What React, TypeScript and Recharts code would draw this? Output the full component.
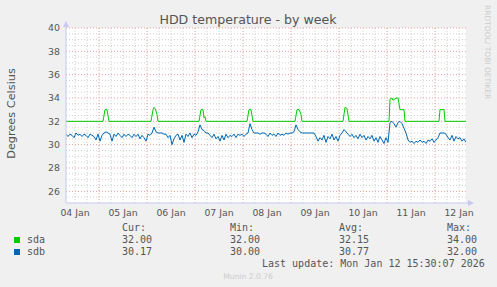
import React from 'react';
import { LineChart, Line, XAxis, YAxis, CartesianGrid } from 'recharts';

// Time axis: hours since Jan 04 07:30 (graph end: Jan 12 15:30)
const dayLabels = ['04 Jan', '05 Jan', '06 Jan', '07 Jan', '08 Jan', '09 Jan', '10 Jan', '11 Jan', '12 Jan'];
const dayLabelHours = [4.5, 28.5, 52.5, 76.5, 100.5, 124.5, 148.5, 172.5, 196.5];
const midnightHours = [16.5, 40.5, 64.5, 88.5, 112.5, 136.5, 160.5, 184.5];
const yTicks = [26, 28, 30, 32, 34, 36, 38, 40];

// sda: breakpoints (hour, °C)
const sdaHours = [
  0, 18.5, 19.5, 20.5, 21.5,
  42.5, 43.5, 44, 44.5, 45.5, 46,
  66.5, 67.5, 68.5, 69, 69.5, 70,
  90.5, 91.5, 92.5, 93.5,
  114.5, 115.5, 116.5, 117.5, 118,
  138.5, 139.5, 140.5, 141.5,
  161.5, 162, 163, 163.5, 165, 166, 167, 169, 169.5,
  186.5, 187, 189, 189.5, 200,
];
const sdaValues = [
  32, 32, 33, 33, 32,
  32, 33, 33.2, 33.1, 32.6, 32,
  32, 33, 33, 32.3, 32.4, 32,
  32, 33, 33, 32,
  32, 33, 33, 32.6, 32,
  32, 33.2, 33.1, 32,
  32, 33.9, 34, 33.8, 34, 34, 33, 33, 32,
  32, 33, 33, 32, 32,
];

// sdb: hourly values from hour 0 to 200
const sdbValues = [
  30.9, 30.7, 30.9, 30.8, 30.6, 31.0, 30.8, 30.9, 30.7, 30.9, 30.8, 30.6, 30.9, 30.8, 30.7, 30.4, 30.9, 30.3, 30.8,
  31.0, 31.1, 31.0, 30.9,
  30.3,
  30.9, 30.7, 31.0, 30.8, 30.6, 30.9, 30.7, 30.9, 30.8, 30.6, 30.9,
  30.7, 30.9, 30.5, 30.8, 30.6, 30.3, 30.9, 30.8, 31.0, 31.5, 31.1, 31.0, 31.0, 31.0, 30.9, 30.9, 30.6, 30.8, 30.0,
  30.5, 30.8, 30.9, 30.4, 30.8, 30.2, 30.9, 30.7, 31.0, 30.6, 30.9, 30.8, 31.1, 31.7, 31.3, 31.2, 31.0, 31.0,
  30.8, 30.6, 30.9, 30.5, 30.7, 30.3, 30.8, 30.4, 30.9, 30.6, 30.8, 30.7, 30.9, 30.6, 30.9, 30.8, 30.9, 30.7,
  30.9, 31.0, 31.8, 31.3, 31.0,
  31.0, 31.0, 30.9, 31.0, 31.0, 30.9, 30.7, 31.0, 30.8, 30.9, 30.7, 31.0, 30.8, 30.9, 30.8, 31.0, 30.9, 31.0,
  31.0, 31.1, 31.7, 31.3, 31.1, 31.0, 31.0, 31.0, 31.0, 31.0, 31.0, 31.0, 30.7,
  30.3, 30.6, 30.4, 30.8, 30.2, 30.7, 30.5, 30.9, 30.4, 30.7, 30.3, 30.8,
  31.0, 31.3, 31.1, 30.9, 30.7,
  30.9, 30.6, 30.8, 30.5, 30.9, 30.6, 30.8, 30.4, 30.7, 30.5, 30.8, 30.3, 30.6, 30.2, 30.7, 30.4, 30.1, 30.6, 30.2,
  31.9, 32.0, 31.8, 31.5, 31.9, 32.0, 31.8, 31.4, 31.0,
  30.4, 30.2, 30.3, 30.1, 30.3, 30.2, 30.4, 30.2, 30.3, 30.1, 30.4, 30.3, 30.5, 30.2, 30.4, 30.6,
  31.0, 31.0, 31.0, 30.9,
  30.6, 30.4, 30.8, 30.3, 30.7, 30.5, 30.6, 30.3, 30.5, 30.2,
];

const seriesNames = ['sda', 'sdb'];
const seriesColors = ['#00CC00', '#0066B3'];
const curValues = ['32.00', '30.17'];
const minValues = ['32.00', '30.00'];
const avgValues = ['32.15', '30.77'];
const maxValues = ['34.00', '32.00'];
const lastUpdate = 'Last update: Mon Jan 12 15:30:07 2026';

const sdaData = sdaHours.map((h, i) => ({ h, v: sdaValues[i] }));
const sdbData = sdbValues.map((v, i) => ({ h: i, v }));

const minorH: number[] = [];
for (let v = 25.5; v < 40; v += 0.5) if (v % 2 !== 0) minorH.push(v);
const minorV: number[] = [];
for (let h = 4.5; h <= 200; h += 6) if (!midnightHours.includes(h)) minorV.push(h);

const W = 497;
const H = 287;
const mono = '"DejaVu Sans Mono", monospace';
const sans = '"DejaVu Sans", sans-serif';
const textColor = '#555555';
const axisColor = '#C8C8F0';

export default function App() {
  const cols = [122, 230, 339, 447];
  const headers = ['Cur:', 'Min:', 'Avg:', 'Max:'];
  const colValues = [curValues, minValues, avgValues, maxValues];
  const rowY = [243, 255];
  return (
    <div style={{ position: 'fixed', left: 0, top: 0, width: W, height: H, background: '#F0F0F0' }}>
      <LineChart width={W} height={H} margin={{ top: 28, right: 31, bottom: 64, left: 0 }}>
        <CartesianGrid
          fill="#FFFFFF"
          stroke="#D0D0D0"
          strokeDasharray="1 2"
          horizontalValues={minorH}
          verticalValues={minorV}
        />
        <CartesianGrid
          stroke="#E4A0A0"
          strokeDasharray="1 2"
          horizontalValues={yTicks}
          verticalValues={midnightHours}
        />
        <XAxis
          type="number"
          dataKey="h"
          domain={[0, 200]}
          ticks={dayLabelHours}
          tickFormatter={(v: number) => dayLabels[dayLabelHours.indexOf(v)] ?? ''}
          axisLine={false}
          tickLine={false}
          tickSize={0}
          tickMargin={6}
          height={20}
          interval={0}
          allowDataOverflow
          tick={{ fill: textColor, fontSize: 9.3, fontFamily: sans }}
        />
        <YAxis
          type="number"
          domain={[25, 40]}
          ticks={yTicks}
          axisLine={false}
          tickLine={false}
          tickSize={0}
          tickMargin={6}
          width={66}
          interval={0}
          allowDataOverflow
          tick={{ fill: textColor, fontSize: 9.4, fontFamily: sans }}
        />
        <Line
          data={sdaData}
          dataKey="v"
          type="linear"
          stroke={seriesColors[0]}
          strokeWidth={1}
          dot={false}
          activeDot={false}
          isAnimationActive={false}
        />
        <Line
          data={sdbData}
          dataKey="v"
          type="linear"
          stroke={seriesColors[1]}
          strokeWidth={1}
          dot={false}
          activeDot={false}
          isAnimationActive={false}
        />
      </LineChart>
      <svg
        width={W}
        height={H}
        style={{ position: 'absolute', left: 0, top: 0, pointerEvents: 'none' }}
      >
        {/* axes with arrows */}
        <line x1={66} y1={203} x2={66} y2={26} stroke={axisColor} strokeWidth={1} />
        <polygon points="63,27 69,27 66,21" fill={axisColor} />
        <line x1={66} y1={203} x2={469} y2={203} stroke={axisColor} strokeWidth={1} />
        <polygon points="468,200 468,206 474,203" fill={axisColor} />

        <text x={248} y={23.5} textAnchor="middle" fontFamily={sans} fontSize={12.6} fill={textColor}>
          HDD temperature - by week
        </text>
        <text
          x={15}
          y={113.5}
          textAnchor="middle"
          fontFamily={sans}
          fontSize={11.3}
          fill={textColor}
          transform="rotate(-90, 15, 113.5)"
        >
          Degrees Celsius
        </text>
        <text
          x={485}
          y={5}
          fontFamily={sans}
          fontSize={7.5}
          fill="#CCCCCC"
          transform="rotate(90, 485, 5)"
        >
          RRDTOOL/ TOBI OETIKER
        </text>

        {headers.map((hd, i) => (
          <text key={hd} x={cols[i]} y={231} fontFamily={mono} fontSize={10} fill={textColor}>
            {hd}
          </text>
        ))}
        {seriesNames.map((name, r) => (
          <g key={name}>
            <rect x={14} y={rowY[r] - 6} width={6} height={6} fill={seriesColors[r]} />
            <text x={27} y={rowY[r]} fontFamily={mono} fontSize={10} fill={textColor}>
              {name}
            </text>
            {colValues.map((vals, c) => (
              <text key={c} x={cols[c]} y={rowY[r]} fontFamily={mono} fontSize={10} fill={textColor}>
                {vals[r]}
              </text>
            ))}
          </g>
        ))}
        <text x={262} y={267} fontFamily={mono} fontSize={10} fill={textColor}>
          {lastUpdate}
        </text>
        <text x={248} y={278.5} textAnchor="middle" fontFamily={sans} fontSize={7.6} fill="#CCCCCC">
          Munin 2.0.76
        </text>
      </svg>
    </div>
  );
}
